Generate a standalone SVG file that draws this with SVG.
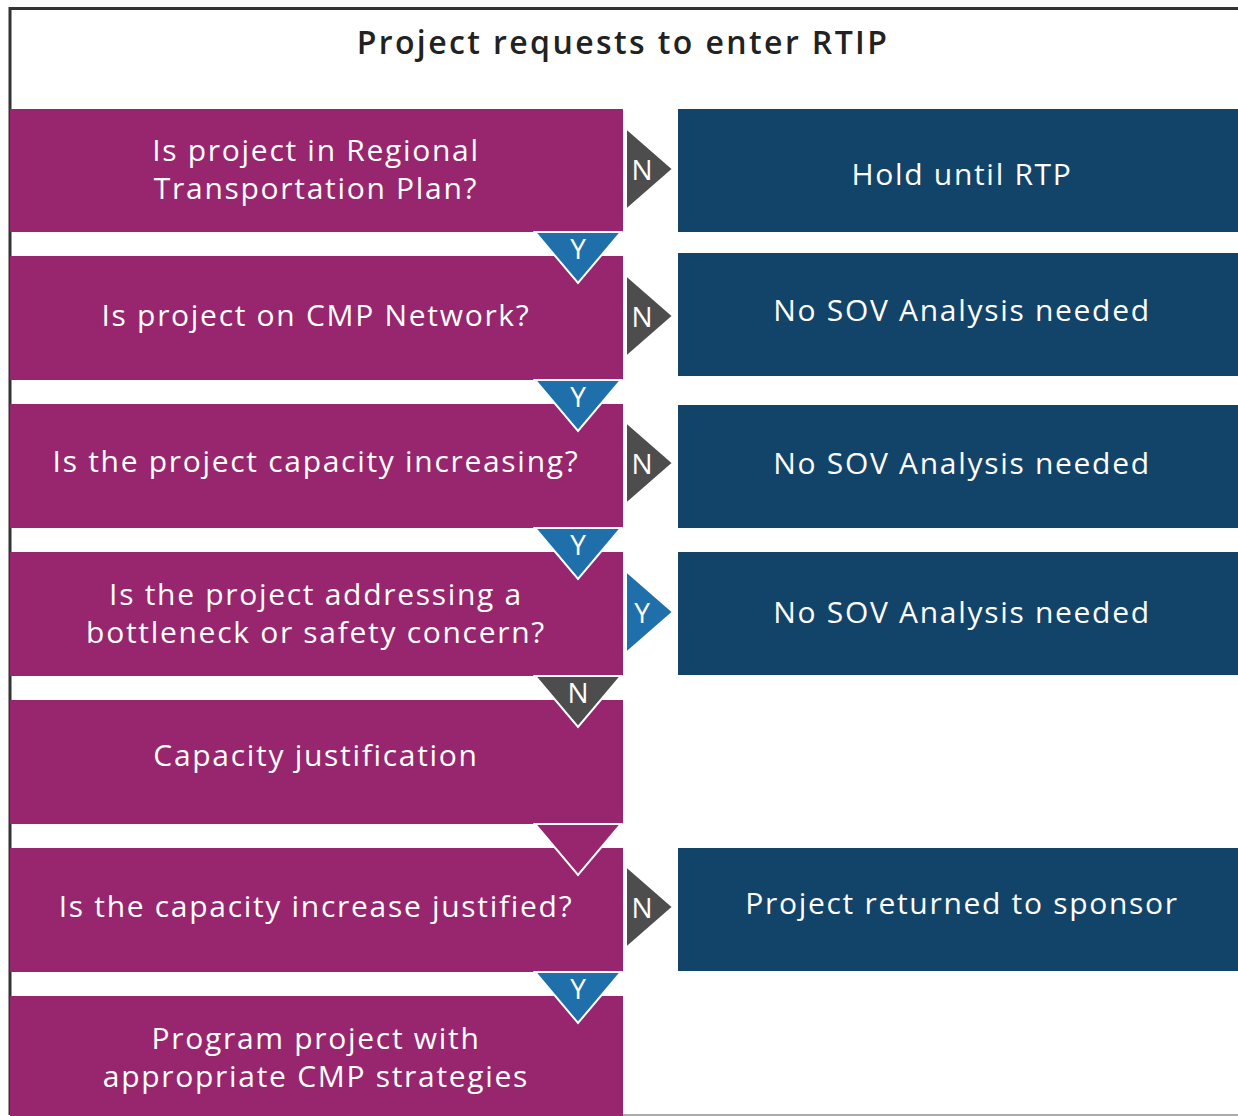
<svg xmlns="http://www.w3.org/2000/svg" width="1238" height="1116" viewBox="0 0 1238 1116">
<style>
.q{fill:#97266f}
.r{fill:#12446a}
.t{font-family:"Open Sans","Noto Sans",sans-serif;font-size:30px;letter-spacing:1.7px;fill:#fff;text-anchor:middle;dominant-baseline:central}
.h{font-family:"Open Sans","Noto Sans",sans-serif;font-size:32px;letter-spacing:2.4px;font-weight:600;fill:#222;text-anchor:middle;dominant-baseline:central}
.a{stroke:#fff;stroke-width:2;stroke-linejoin:miter}
.y{fill:#1f70aa}
.n{fill:#4d4d4d}
.l{font-family:"Open Sans","Noto Sans",sans-serif;font-size:28px;fill:#fff;text-anchor:middle;dominant-baseline:central}
</style>
<rect x="0" y="0" width="1238" height="1116" fill="#fff"/>
<path d="M10,1115 V8.5 H1238" fill="none" stroke="#333" stroke-width="3"/>
<line x1="10" y1="1115" x2="1238" y2="1115" stroke="#aaa" stroke-width="2"/>
<text class="h" x="623" y="41">Project requests to enter RTIP</text>

<g id="q1"><rect class="q" x="10" y="109" width="613" height="123"/><text class="t" x="316" y="149">Is project in Regional</text><text class="t" x="316" y="187">Transportation Plan?</text></g>
<g id="q2"><rect class="q" x="10" y="256" width="613" height="124"/><text class="t" x="316" y="314">Is project on CMP Network?</text></g>
<g id="q3"><rect class="q" x="10" y="404" width="613" height="124"/><text class="t" x="316" y="460">Is the project capacity increasing?</text></g>
<g id="q4"><rect class="q" x="10" y="552" width="613" height="124"/><text class="t" x="316" y="593">Is the project addressing a</text><text class="t" x="316" y="631">bottleneck or safety concern?</text></g>
<g id="q5"><rect class="q" x="10" y="700" width="613" height="124"/><text class="t" x="316" y="754">Capacity justification</text></g>
<g id="q6"><rect class="q" x="10" y="848" width="613" height="124"/><text class="t" x="316" y="905">Is the capacity increase justified?</text></g>
<g id="q7"><rect class="q" x="10" y="996" width="613" height="122"/><text class="t" x="316" y="1037">Program project with</text><text class="t" x="316" y="1075">appropriate CMP strategies</text></g>

<g id="o1"><rect class="r" x="678" y="109" width="562" height="123"/><text class="t" x="962" y="173">Hold until RTP</text></g>
<g id="o2"><rect class="r" x="678" y="253" width="562" height="123"/><text class="t" x="962" y="309">No SOV Analysis needed</text></g>
<g id="o3"><rect class="r" x="678" y="405" width="562" height="123"/><text class="t" x="962" y="462">No SOV Analysis needed</text></g>
<g id="o4"><rect class="r" x="678" y="552" width="562" height="123"/><text class="t" x="962" y="611">No SOV Analysis needed</text></g>
<g id="o6"><rect class="r" x="678" y="848" width="562" height="123"/><text class="t" x="962" y="902">Project returned to sponsor</text></g>

<g id="connectors">
<g><path class="a n" d="M626,128 L673,169 L626,210 Z"/><text class="l" x="642" y="169">N</text></g>
<g><path class="a n" d="M626,275 L673,316 L626,357 Z"/><text class="l" x="642" y="316">N</text></g>
<g><path class="a n" d="M626,422 L673,463 L626,504 Z"/><text class="l" x="642" y="463">N</text></g>
<g><path class="a y" d="M626,571 L673,612 L626,653 Z"/><text class="l" x="642" y="612">Y</text></g>
<g><path class="a n" d="M626,866 L673,907 L626,948 Z"/><text class="l" x="642" y="907">N</text></g>

<g><path class="a y" d="M535,232 L621,232 L578,283 Z"/><text class="l" x="578" y="248">Y</text></g>
<g><path class="a y" d="M535,380 L621,380 L578,431 Z"/><text class="l" x="578" y="396">Y</text></g>
<g><path class="a y" d="M535,528 L621,528 L578,579 Z"/><text class="l" x="578" y="544">Y</text></g>
<g><path class="a n" d="M535,676 L621,676 L578,727 Z"/><text class="l" x="578" y="692">N</text></g>
<g><path class="a q" d="M535,824 L621,824 L578,875 Z"/></g>
<g><path class="a y" d="M535,972 L621,972 L578,1023 Z"/><text class="l" x="578" y="988">Y</text></g>
</g>
</svg>
